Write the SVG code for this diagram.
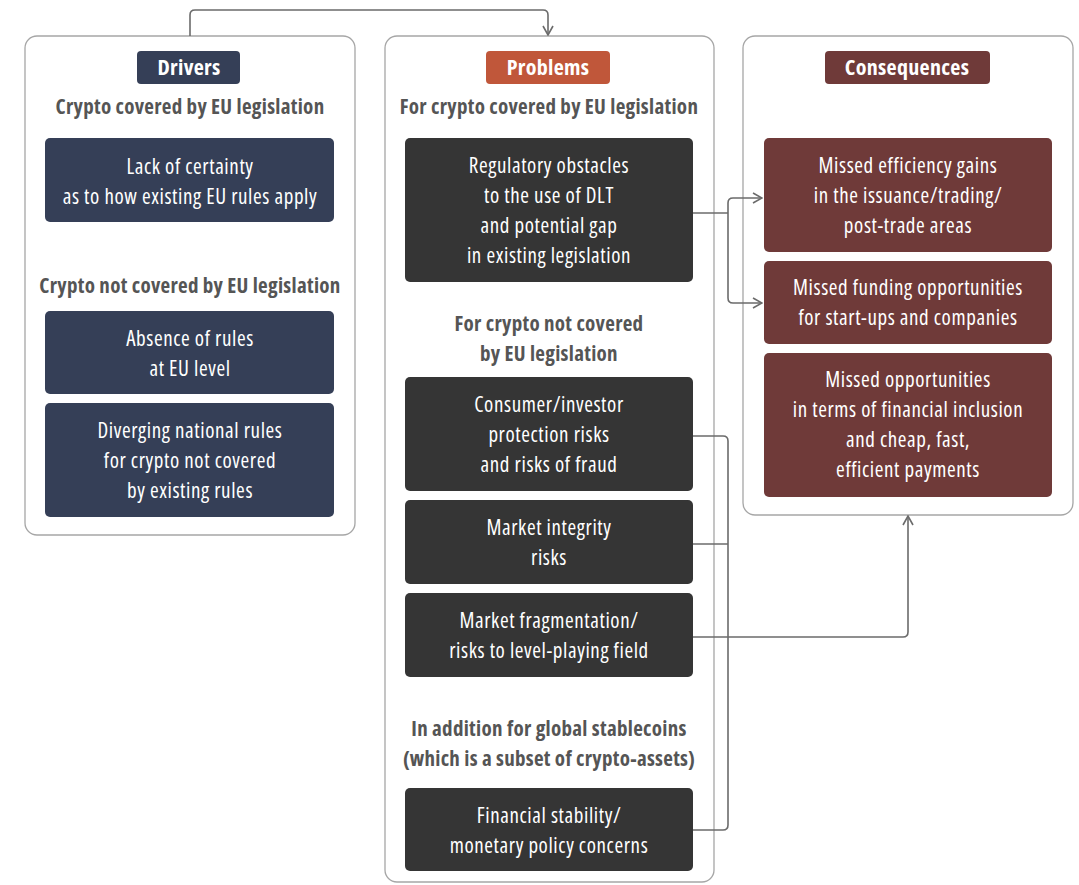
<svg xmlns="http://www.w3.org/2000/svg" width="1079" height="885" viewBox="0 0 1079 885">
<style>
text{font-family:"Open Sans","Liberation Sans",sans-serif;font-stretch:condensed;text-anchor:middle;}
.panel{fill:#fff;stroke:#a6a6a6;stroke-width:1.3;}
.lbl{font-size:22px;font-weight:bold;fill:#fff;letter-spacing:0.3px;}
.sub{font-size:21px;font-weight:bold;fill:#555;letter-spacing:0.3px;}
.t{font-size:21px;fill:#fff;letter-spacing:0.6px;}
.drv{fill:#353f57;}
.prb{fill:#353535;}
.csq{fill:#6f3a39;}
.conn{fill:none;stroke:#6b6b6b;stroke-width:1.6;}
</style>
<defs>
<marker id="ah" viewBox="0 0 12 12" refX="11" refY="6" markerWidth="12" markerHeight="12" markerUnits="userSpaceOnUse" orient="auto">
<path d="M2,1 L11,6 L2,11" fill="none" stroke="#6b6b6b" stroke-width="1.6"/>
</marker>
</defs>
<rect width="1079" height="885" fill="#fff"/>

<g id="panel-drivers">
<rect class="panel" x="25" y="36" width="330" height="499" rx="12"/>
<rect class="drv" x="137" y="51" width="103" height="33" rx="4"/>
<text class="lbl" x="189" y="75">Drivers</text>
<text class="sub" x="190" y="114">Crypto covered by EU legislation</text>
<text class="sub" x="190" y="293">Crypto not covered by EU legislation</text>
</g>
<g id="panel-problems">
<rect class="panel" x="385" y="36" width="329" height="846" rx="12"/>
<rect x="486" y="51" width="124" height="33" rx="4" fill="#c0573a"/>
<text class="lbl" x="548" y="75">Problems</text>
<text class="sub" x="549" y="114">For crypto covered by EU legislation</text>
<text class="sub" x="549" y="331">For crypto not covered</text>
<text class="sub" x="549" y="361">by EU legislation</text>
<text class="sub" x="549" y="736">In addition for global stablecoins</text>
<text class="sub" x="549" y="766">(which is a subset of crypto-assets)</text>
</g>
<g id="panel-consequences">
<rect class="panel" x="743" y="36" width="330" height="479" rx="12"/>
<rect class="csq" x="825" y="51" width="165" height="33" rx="4"/>
<text class="lbl" x="907" y="75">Consequences</text>
</g>

<g id="d1"><rect class="drv" x="45" y="138" width="289" height="84" rx="5"/>
<text class="t" x="190" y="174">Lack of certainty</text><text class="t" x="190" y="204">as to how existing EU rules apply</text></g>
<g id="d2"><rect class="drv" x="45" y="311" width="289" height="83" rx="5"/>
<text class="t" x="190" y="346">Absence of rules</text><text class="t" x="190" y="376">at EU level</text></g>
<g id="d3"><rect class="drv" x="45" y="403" width="289" height="114" rx="5"/>
<text class="t" x="190" y="438">Diverging national rules</text><text class="t" x="190" y="468">for crypto not covered</text><text class="t" x="190" y="498">by existing rules</text></g>

<g id="p1"><rect class="prb" x="405" y="138" width="288" height="144" rx="5"/>
<text class="t" x="549" y="173">Regulatory obstacles</text><text class="t" x="549" y="203">to the use of DLT</text><text class="t" x="549" y="233">and potential gap</text><text class="t" x="549" y="263">in existing legislation</text></g>
<g id="p2"><rect class="prb" x="405" y="377" width="288" height="114" rx="5"/>
<text class="t" x="549" y="412">Consumer/investor</text><text class="t" x="549" y="442">protection risks</text><text class="t" x="549" y="472">and risks of fraud</text></g>
<g id="p3"><rect class="prb" x="405" y="500" width="288" height="84" rx="5"/>
<text class="t" x="549" y="535">Market integrity</text><text class="t" x="549" y="565">risks</text></g>
<g id="p4"><rect class="prb" x="405" y="593" width="288" height="84" rx="5"/>
<text class="t" x="549" y="628">Market fragmentation/</text><text class="t" x="549" y="658">risks to level-playing field</text></g>
<g id="p5"><rect class="prb" x="405" y="788" width="288" height="83" rx="5"/>
<text class="t" x="549" y="823">Financial stability/</text><text class="t" x="549" y="853">monetary policy concerns</text></g>

<g id="c1"><rect class="csq" x="764" y="138" width="288" height="114" rx="5"/>
<text class="t" x="908" y="173">Missed efficiency gains</text><text class="t" x="908" y="203">in the issuance/trading/</text><text class="t" x="908" y="233">post-trade areas</text></g>
<g id="c2"><rect class="csq" x="764" y="261" width="288" height="83" rx="5"/>
<text class="t" x="908" y="295">Missed funding opportunities</text><text class="t" x="908" y="325">for start-ups and companies</text></g>
<g id="c3"><rect class="csq" x="764" y="353" width="288" height="144" rx="5"/>
<text class="t" x="908" y="387">Missed opportunities</text><text class="t" x="908" y="417">in terms of financial inclusion</text><text class="t" x="908" y="447">and cheap, fast,</text><text class="t" x="908" y="477">efficient payments</text></g>

<g id="connectors">
<path class="conn" d="M190,36 V15 Q190,10 195,10 H543 Q548,10 548,15 V35" marker-end="url(#ah)"/>
<path class="conn" d="M693,213 H728"/>
<path class="conn" d="M728,213 V203 Q728,198 733,198 H762" marker-end="url(#ah)"/>
<path class="conn" d="M728,213 V298 Q728,303 733,303 H762" marker-end="url(#ah)"/>
<path class="conn" d="M693,436 H723 Q728,436 728,441 V825 Q728,830 723,830 H693"/>
<path class="conn" d="M693,544 H728"/>
<path class="conn" d="M693,637 H903 Q908,637 908,632 V516" marker-end="url(#ah)"/>
</g>
</svg>
